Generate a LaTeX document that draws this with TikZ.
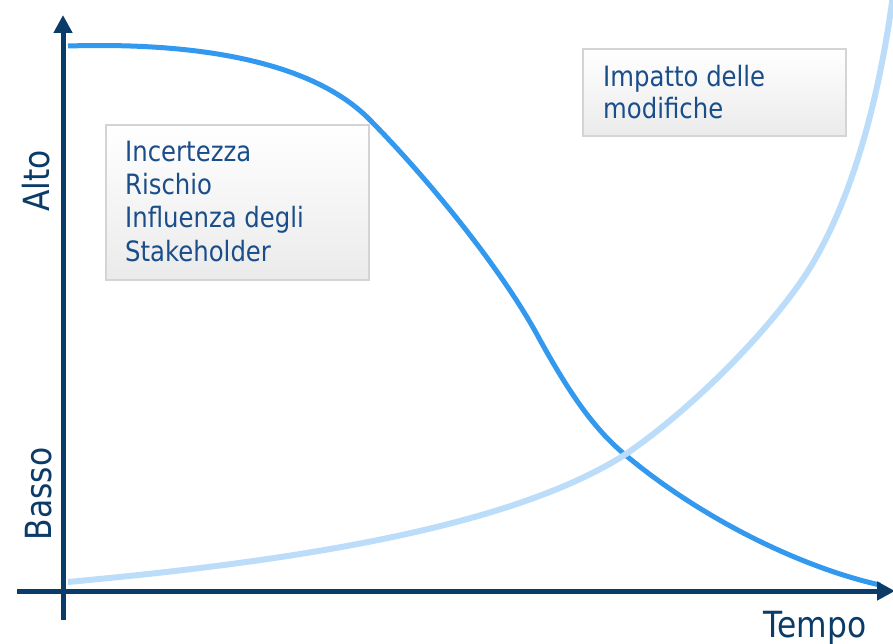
\documentclass[tikz,border=0pt]{standalone}
\usepackage{fontspec}
\setmainfont{DejaVu Sans}[FakeStretch=0.87]
\usetikzlibrary{arrows.meta}
\definecolor{axiscol}{HTML}{0B3B68}
\definecolor{darkcurve}{HTML}{3399EE}
\definecolor{lightcurve}{HTML}{BBDDFA}
\definecolor{boxtext}{HTML}{1A4E8A}
\definecolor{boxborder}{HTML}{D4D4D4}
\tikzset{
  infobox/.style={draw=boxborder, line width=1.5pt, top color=white, bottom color=black!8, inner sep=0pt},
  boxline/.style={anchor=base west, inner sep=0pt, text=boxtext, font=\fontsize{28}{33}\selectfont},
  axislabel/.style={inner sep=0pt, text=axiscol, font=\fontsize{36}{40}\selectfont},
  axisline/.style={draw=axiscol, line width=5pt, -{Triangle[length=18pt,width=18pt]}},
}
\begin{document}
\begin{tikzpicture}[x=1pt,y=-1pt]
\useasboundingbox[fill=white] (0,0) rectangle (893,644);
% boxes
\node[infobox, minimum width=263pt, minimum height=155pt] (box1) at (237.5,202.5) {};
\node[infobox, minimum width=263pt, minimum height=87pt] (box2) at (714.5,92.5) {};
\node[boxline] (t1) at (125,162) {Incertezza};
\node[boxline] (t2) at (125,195) {Rischio};
\node[boxline] (t3) at (125,228) {Influenza degli};
\node[boxline] (t4) at (125,261) {Stakeholder};
\node[boxline] (t5) at (603,87) {Impatto delle};
\node[boxline] (t6) at (603,119) {modifiche};
% curves
\coordinate (d0) at (68,46);
\coordinate (d1) at (367,117);
\coordinate (d2) at (540,340);
\coordinate (d3) at (623,453);
\coordinate (d4) at (880,585);
\draw[darkcurve, line width=5pt] (d0) .. controls (200,42) and (310,62) .. (d1)
  .. controls (420,170) and (500,265) .. (d2)
  .. controls (565,385) and (590,425) .. (d3)
  .. controls (700,518) and (800,567) .. (d4);
\coordinate (l0) at (68,582);
\coordinate (l1) at (626,454);
\coordinate (l2) at (800,283);
\coordinate (l3) at (893,-5);
\draw[lightcurve, line width=6pt] (l0) .. controls (250,565) and (500,535) .. (l1)
  .. controls (690,410) and (760,340) .. (l2)
  .. controls (840,226) and (875,130) .. (l3);
% axes
\coordinate (ybot) at (63,620);
\coordinate (ytop) at (63,15);
\coordinate (xleft) at (17,591);
\coordinate (xright) at (895,591);
\draw[axisline] (ybot) -- (ytop);
\draw[axisline] (xleft) -- (xright);
% axis labels
\node[axislabel, rotate=90] (alto) at (36,181) {Alto};
\node[axislabel, rotate=90] (basso) at (39,494) {Basso};
\node[axislabel, anchor=base] (tempo) at (815,637) {Tempo};
\end{tikzpicture}
\end{document}
